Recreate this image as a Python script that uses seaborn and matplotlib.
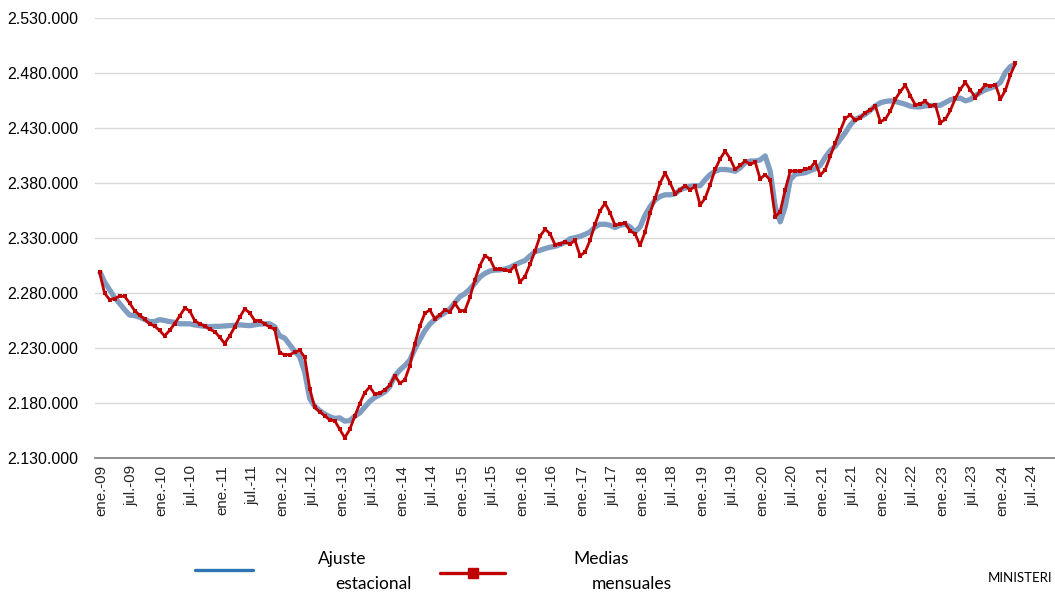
import numpy as np
import pandas as pd
import matplotlib
matplotlib.use("Agg")
import matplotlib.pyplot as plt
from matplotlib.lines import Line2D
from matplotlib.ticker import FixedLocator, FuncFormatter
import seaborn as sns

# Monthly averages (thousands), January 2009 onwards
medias_mensuales = [
    2299, 2280, 2274, 2275, 2277, 2277, 2271, 2264, 2260, 2256, 2252, 2250,
    2246, 2241, 2246, 2252, 2259, 2266, 2264, 2255, 2252, 2250, 2247, 2245,
    2240, 2234, 2241, 2249, 2258, 2265.5, 2262, 2255, 2255, 2252, 2249, 2247,
    2225.5, 2224, 2224, 2226, 2228, 2221.5, 2193, 2176, 2172, 2168.5, 2164.5, 2164,
    2156, 2148.5, 2156, 2168, 2179.5, 2189.5, 2194.6, 2188, 2189, 2192, 2196, 2205,
    2198, 2201, 2214, 2234, 2250, 2261.6, 2264.6, 2256.5, 2260, 2264.6, 2263, 2270.6,
    2264, 2264, 2276, 2292, 2305, 2314, 2311, 2301.5, 2301.5, 2301, 2300, 2305,
    2290, 2295, 2306, 2318, 2331.5, 2338, 2334, 2324, 2325, 2326, 2324.7, 2327.8,
    2314, 2317, 2327.8, 2342.5, 2354.8, 2361.6, 2353, 2341.6, 2342.5, 2343.8, 2336.4, 2334,
    2323.2, 2335.5, 2353, 2366.2, 2380, 2389.2, 2380, 2370.2, 2373.9, 2377.5, 2373.9, 2377,
    2360, 2366.2, 2378.5, 2392.3, 2402, 2409, 2402, 2392.3, 2396, 2400, 2397, 2399,
    2383.7, 2387.7, 2382.5, 2349.3, 2354, 2374, 2390.7, 2391, 2391, 2392.3, 2393.7, 2399.2,
    2387, 2392.2, 2404.4, 2416.6, 2427.8, 2438.8, 2441.9, 2437, 2439.4, 2444, 2446.1, 2450.1,
    2435.8, 2437.9, 2445.5, 2456.2, 2463.2, 2469, 2459.3, 2451, 2452.2, 2454.1, 2450.1, 2451,
    2434.9, 2437.9, 2446.1, 2457.1, 2465.4, 2471.5, 2464.4, 2457.7, 2463.8, 2469.3, 2468.4, 2469.3,
    2456.2, 2464.4, 2478.5, 2488.8,
]

# Seasonally adjusted series (thousands)
ajuste_estacional = [
    2300, 2290, 2283, 2276, 2270.6, 2265, 2260, 2259.4, 2258, 2256, 2254, 2254,
    2255.8, 2255, 2254, 2253.3, 2252, 2252, 2252, 2251, 2250.3, 2249.7, 2249.4, 2249.7,
    2249.7, 2250, 2250.3, 2250.6, 2251, 2250.6, 2250.3, 2251, 2251.8, 2252, 2252, 2249.4,
    2241, 2239, 2233, 2227, 2222, 2208, 2184, 2177, 2173, 2170, 2167.5, 2166,
    2166.5, 2163.5, 2164, 2168, 2171, 2176.3, 2181.5, 2185, 2187.5, 2190, 2195, 2204.5,
    2210, 2214, 2219, 2229, 2237.5, 2245.7, 2251.7, 2256, 2259.3, 2262, 2265.6, 2271.3,
    2276.7, 2279.4, 2283.6, 2288.8, 2294.5, 2297.8, 2300, 2300.8, 2301, 2301.7, 2303.2, 2305.6,
    2307.7, 2309.5, 2313.7, 2317.4, 2318.8, 2320.4, 2321.6, 2322.5, 2324, 2326, 2329.3, 2330.3,
    2331.5, 2333.3, 2335.5, 2340, 2342.5, 2342.5, 2341.6, 2339.5, 2341.6, 2342.5, 2340, 2335.5,
    2340, 2350.8, 2358.5, 2364.6, 2367.7, 2369.3, 2369.3, 2370.2, 2373.9, 2375.4, 2377, 2377.5,
    2377.5, 2383, 2387.7, 2390.7, 2392.3, 2392.3, 2391.7, 2390.7, 2393.8, 2398.4, 2400, 2400,
    2401, 2404.6, 2390.7, 2358.5, 2344.7, 2358.5, 2383, 2388, 2388.6, 2389.3, 2391.2, 2393,
    2396, 2403.4, 2409.5, 2413.5, 2419.6, 2425.7, 2432.7, 2437.9, 2440, 2442.5, 2446.1, 2450.1,
    2452.9, 2454.1, 2454.7, 2454.1, 2452.9, 2451.6, 2449.8, 2449.2, 2449.2, 2450.1, 2450.4, 2450.4,
    2450.7, 2453.2, 2455.6, 2456.8, 2457.1, 2454.7, 2455.9, 2459.6, 2462.3, 2464.7, 2466.3, 2468.1,
    2471.5, 2480.6, 2485.8, 2488.2,
]

# Axis labels every six months
tick_labels = [("ene.-%02d" if k % 2 == 0 else "jul.-%02d") % (9 + k // 2) for k in range(32)]
y_ticks = [2130000 + 50000 * i for i in range(9)]

df = pd.DataFrame({
    "mes": np.arange(len(medias_mensuales)),
    "medias": np.array(medias_mensuales) * 1000,
    "ajuste": np.array(ajuste_estacional) * 1000,
})

sns.set_style("white")
plt.rcParams["font.family"] = ["Liberation Sans", "DejaVu Sans"]

W, H = 1055, 595
fig = plt.figure(figsize=(W / 100, H / 100), dpi=100)
ax_l, ax_r, ax_t, ax_b = 94.7, 1055, 18, 458
ax = fig.add_axes([ax_l / W, 1 - ax_b / H, (ax_r - ax_l) / W, (ax_b - ax_t) / H])

sns.lineplot(data=df, x="mes", y="ajuste", ax=ax, color="#7f9cc1", lw=3.8,
             solid_capstyle="butt", zorder=3)
sns.lineplot(data=df, x="mes", y="medias", ax=ax, color="#c00000", lw=2.0,
             marker="s", markersize=2.8, markeredgewidth=0, zorder=4)

ax.set_xlim(-0.96, 190.9)
ax.set_ylim(2130000, 2530000)
ax.set_xlabel("")
ax.set_ylabel("")

ax.yaxis.set_major_locator(FixedLocator(y_ticks))
ax.yaxis.set_major_formatter(FuncFormatter(lambda v, p: f"{v:,.0f}".replace(",", ".")))
ax.grid(axis="y", color="#d9d9d9", lw=1.0, zorder=0)
ax.tick_params(axis="y", length=0, pad=12, labelsize=11.5, labelcolor="#000000")

# tick marks on the month positions, labels set just to their right
ax.set_xticks([6 * k + 0.45 for k in range(32)])
ax.set_xticklabels(tick_labels, rotation=90, fontsize=10.8)
ax.set_xticks([6 * k - 0.28 for k in range(32)], minor=True)
ax.tick_params(axis="x", which="major", length=0, pad=5)
ax.tick_params(axis="x", which="minor", length=5, width=1.0, color="#868686", direction="out")

for s in ["left", "right", "top"]:
    ax.spines[s].set_visible(False)
ax.spines["bottom"].set_color("#868686")
ax.spines["bottom"].set_linewidth(1.3)
ax.spines["bottom"].set_zorder(5)

# legend row
def fx(px):
    return px / W

def fy(py):
    return 1 - py / H

fig.add_artist(Line2D([fx(195), fx(253)], [fy(570), fy(570)], color="#2e75b6", lw=2.4,
                      transform=fig.transFigure))
fig.add_artist(Line2D([fx(440), fx(505)], [fy(573), fy(573)], color="#c00000", lw=2.4,
                      transform=fig.transFigure))
fig.add_artist(Line2D([fx(472.5)], [fy(573)], color="#c00000", marker="s", markersize=7.5,
                      lw=0, transform=fig.transFigure))

leg_font = dict(family=["Lato", "DejaVu Sans"], fontsize=12.5, color="#000000", va="center")
fig.text(fx(318), fy(559), "Ajuste", **leg_font)
fig.text(fx(335), fy(584), "estacional", **leg_font)
fig.text(fx(573), fy(559), "Medias", **leg_font)
fig.text(fx(592), fy(584), "mensuales", **leg_font)
fig.text(fx(988), fy(578), "MINISTERI", family=["Lato", "DejaVu Sans"], fontsize=9.5,
         color="#000000", va="center")

fig.savefig("out.png", dpi=100)
